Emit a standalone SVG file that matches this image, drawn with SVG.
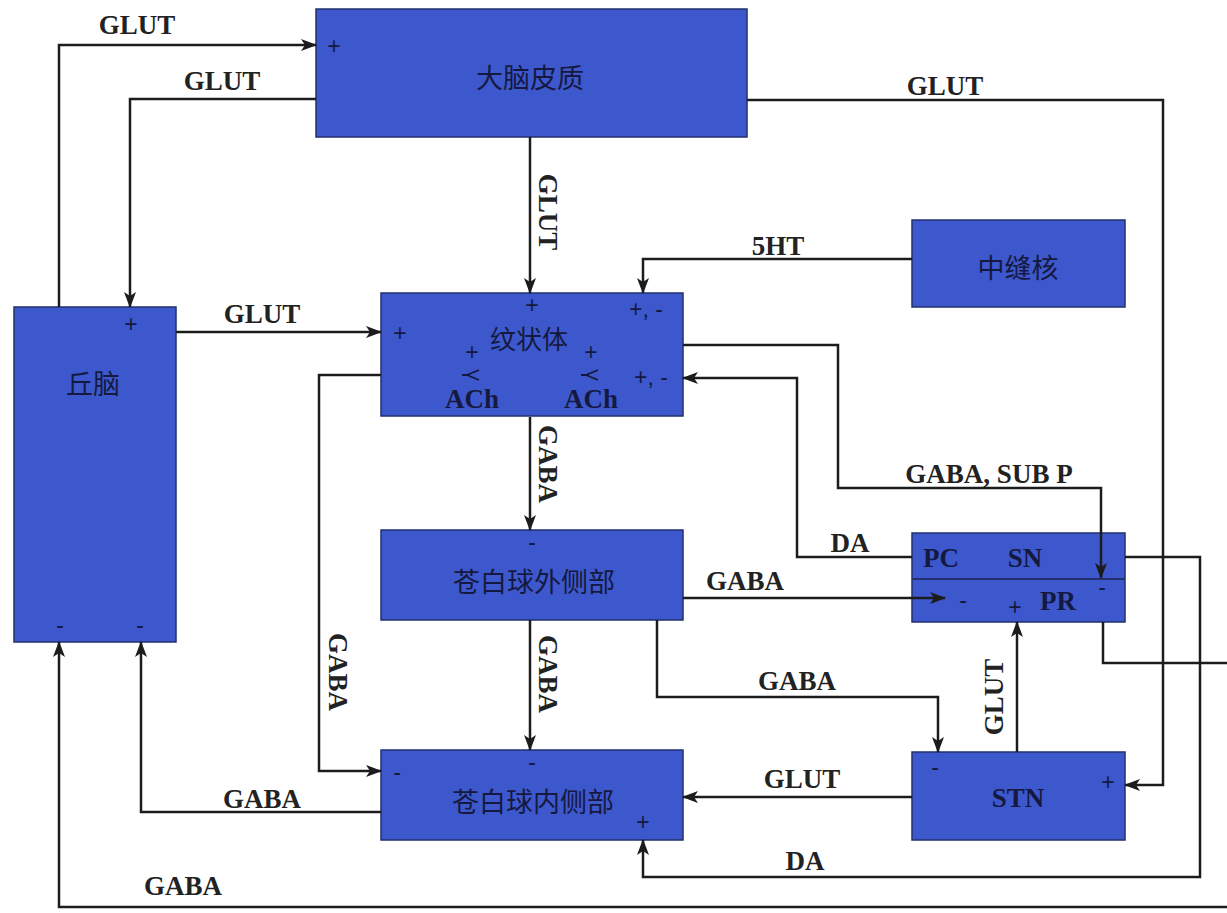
<svg xmlns="http://www.w3.org/2000/svg" width="1227" height="913" viewBox="0 0 1227 913">
<style>
.box{fill:#3c58cc;stroke:#22306e;stroke-width:1.5}
.cn{font-family:"Noto Sans CJK SC","Noto Sans",sans-serif;font-size:27px;fill:#16193f;text-anchor:middle;dominant-baseline:central}
.lb{font-family:"Liberation Serif",serif;font-weight:bold;font-size:27px;fill:#222;text-anchor:middle}
.in{font-family:"Liberation Serif",serif;font-weight:bold;font-size:27px;fill:#16193f;text-anchor:middle}
.sg{font-family:"Liberation Sans",sans-serif;font-size:23px;fill:#16193f;text-anchor:middle;dominant-baseline:central}
.ln{fill:none;stroke:#1c1c1c;stroke-width:2.5}
.sym{fill:none;stroke:#16193f;stroke-width:1.8}
</style>
<defs>
<marker id="ah" markerWidth="16" markerHeight="12" refX="15" refY="6" orient="auto" markerUnits="userSpaceOnUse">
<path d="M0,0 L16,6 L0,12 L4,6 Z" fill="#1c1c1c"/>
</marker>
</defs>
<rect width="1227" height="913" fill="#ffffff"/>

<g id="cortex">
<rect class="box" x="316" y="9" width="431" height="128"/>
<text class="cn" x="530" y="76">大脑皮质</text>
<text class="sg" x="334" y="46">+</text>
</g>

<g id="thalamus">
<rect class="box" x="14" y="307" width="162" height="335"/>
<text class="cn" x="93" y="382">丘脑</text>
<text class="sg" x="131" y="324">+</text>
<text class="sg" x="60" y="625">-</text>
<text class="sg" x="140" y="625">-</text>
</g>

<g id="striatum">
<rect class="box" x="381" y="293" width="302" height="123"/>
<text class="cn" x="529" y="337" style="font-size:26px">纹状体</text>
<text class="sg" x="400" y="333">+</text>
<text class="sg" x="532" y="305">+</text>
<text class="sg" x="646" y="309">+, -</text>
<text class="sg" x="472" y="352">+</text>
<path class="sym" d="M479,370 L467,375 L479,380 M462,375 H470"/>
<text class="in" x="472" y="408">ACh</text>
<text class="sg" x="591" y="352">+</text>
<path class="sym" d="M598,370 L586,375 L598,380 M581,375 H589"/>
<text class="in" x="591" y="408">ACh</text>
<text class="sg" x="651" y="377">+, -</text>
</g>

<g id="raphe">
<rect class="box" x="912" y="220" width="213" height="87"/>
<text class="cn" x="1018" y="266">中缝核</text>
</g>

<g id="gpe">
<rect class="box" x="381" y="530" width="302" height="90"/>
<text class="cn" x="534" y="580">苍白球外侧部</text>
<text class="sg" x="532" y="542">-</text>
</g>

<g id="sn">
<rect class="box" x="912" y="533" width="213" height="89"/>
<line x1="912" y1="579" x2="1125" y2="579" stroke="#22306e" stroke-width="2"/>
<text class="in" x="941" y="567">PC</text>
<text class="in" x="1025" y="567">SN</text>
<text class="sg" x="1102" y="587">-</text>
<text class="sg" x="963" y="600">-</text>
<text class="sg" x="1015" y="607">+</text>
<text class="in" x="1058" y="610">PR</text>
</g>

<g id="gpi">
<rect class="box" x="381" y="750" width="302" height="90"/>
<text class="cn" x="533" y="800">苍白球内侧部</text>
<text class="sg" x="397" y="772">-</text>
<text class="sg" x="532" y="762">-</text>
<text class="sg" x="643" y="822">+</text>
</g>

<g id="stn">
<rect class="box" x="912" y="752" width="213" height="88"/>
<text class="in" x="1018" y="807">STN</text>
<text class="sg" x="935" y="767">-</text>
<text class="sg" x="1108" y="782">+</text>
</g>

<g id="connectors">
<path class="ln" d="M59,307 V45 H316" marker-end="url(#ah)"/>
<path class="ln" d="M316,99 H130 V307" marker-end="url(#ah)"/>
<path class="ln" d="M176,332 H381" marker-end="url(#ah)"/>
<path class="ln" d="M530,137 V293" marker-end="url(#ah)"/>
<path class="ln" d="M747,100 H1163 V785 H1125" marker-end="url(#ah)"/>
<path class="ln" d="M912,259 H643 V293" marker-end="url(#ah)"/>
<path class="ln" d="M683,345 H838 V488 H1101 V578" marker-end="url(#ah)"/>
<path class="ln" d="M912,557 H797 V378 H683" marker-end="url(#ah)"/>
<path class="ln" d="M530,417 V530" marker-end="url(#ah)"/>
<path class="ln" d="M530,620 V750" marker-end="url(#ah)"/>
<path class="ln" d="M381,375 H319 V771 H381" marker-end="url(#ah)"/>
<path class="ln" d="M683,598 H945" marker-end="url(#ah)"/>
<path class="ln" d="M657,620 V697 H938 V752" marker-end="url(#ah)"/>
<path class="ln" d="M1017,752 V622" marker-end="url(#ah)"/>
<path class="ln" d="M912,797 H683" marker-end="url(#ah)"/>
<path class="ln" d="M381,812 H141 V642" marker-end="url(#ah)"/>
<path class="ln" d="M1103,622 V663 H1227"/>
<path class="ln" d="M1227,907 H59 V642" marker-end="url(#ah)"/>
<path class="ln" d="M1125,557 H1200 V877 H643 V840" marker-end="url(#ah)"/>

<text class="lb" x="137" y="34">GLUT</text>
<text class="lb" x="222" y="90">GLUT</text>
<text class="lb" x="262" y="323">GLUT</text>
<text class="lb" x="945" y="95">GLUT</text>
<text class="lb" transform="translate(539,212) rotate(90)">GLUT</text>
<text class="lb" x="778" y="255">5HT</text>
<text class="lb" x="989" y="483">GABA, SUB P</text>
<text class="lb" x="850" y="552">DA</text>
<text class="lb" transform="translate(539,464) rotate(90)">GABA</text>
<text class="lb" x="745" y="590">GABA</text>
<text class="lb" transform="translate(539,674) rotate(90)">GABA</text>
<text class="lb" transform="translate(329,672) rotate(90)">GABA</text>
<text class="lb" x="797" y="690">GABA</text>
<text class="lb" transform="translate(1003,697) rotate(-90)">GLUT</text>
<text class="lb" x="802" y="788">GLUT</text>
<text class="lb" x="262" y="808">GABA</text>
<text class="lb" x="805" y="870">DA</text>
<text class="lb" x="183" y="895">GABA</text>
</g>
</svg>
